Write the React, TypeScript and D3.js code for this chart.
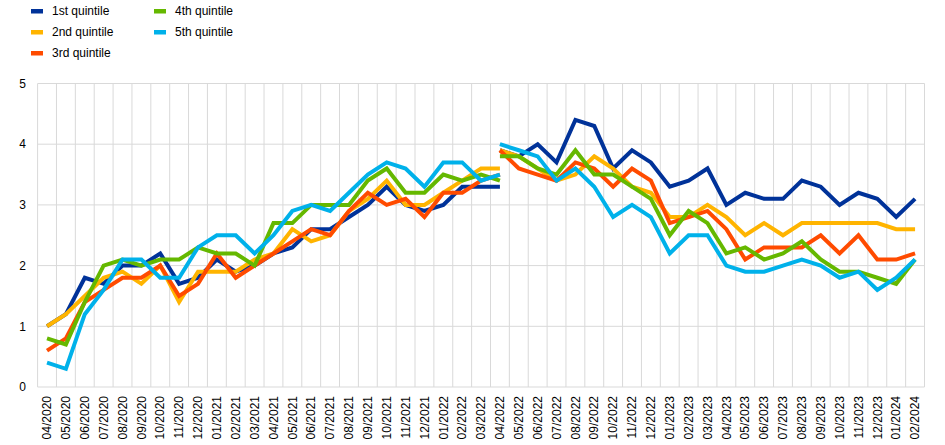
import React from "react";
import * as d3 from "d3";

const months = [
  "04/2020","05/2020","06/2020","07/2020","08/2020","09/2020","10/2020","11/2020","12/2020",
  "01/2021","02/2021","03/2021","04/2021","05/2021","06/2021","07/2021","08/2021","09/2021","10/2021","11/2021","12/2021",
  "01/2022","02/2022","03/2022","04/2022","05/2022","06/2022","07/2022","08/2022","09/2022","10/2022","11/2022","12/2022",
  "01/2023","02/2023","03/2023","04/2023","05/2023","06/2023","07/2023","08/2023","09/2023","10/2023","11/2023","12/2023",
  "01/2024","02/2024",
];

// first segment: 04/2020 .. 04/2022 ; second segment: 04/2022 .. 02/2024
const breakIndex = 24;

const q1Old = [1.0,1.2,1.8,1.7,2.0,2.0,2.2,1.7,1.8,2.1,1.9,2.0,2.2,2.3,2.6,2.6,2.8,3.0,3.3,3.0,2.9,3.0,3.3,3.3,3.3];
const q1New = [3.9,3.8,4.0,3.7,4.4,4.3,3.6,3.9,3.7,3.3,3.4,3.6,3.0,3.2,3.1,3.1,3.4,3.3,3.0,3.2,3.1,2.8,3.1];

const q2Old = [1.0,1.2,1.5,1.8,1.9,1.7,2.0,1.4,1.9,1.9,1.9,2.1,2.2,2.6,2.4,2.5,2.9,3.1,3.4,3.0,3.0,3.2,3.4,3.6,3.6];
const q2New = [3.9,3.8,3.6,3.4,3.5,3.8,3.6,3.3,3.2,2.8,2.8,3.0,2.8,2.5,2.7,2.5,2.7,2.7,2.7,2.7,2.7,2.6,2.6];

const q3Old = [0.6,0.8,1.4,1.6,1.8,1.8,2.0,1.5,1.7,2.2,1.8,2.0,2.2,2.4,2.6,2.5,2.9,3.2,3.0,3.1,2.8,3.2,3.2,3.4,3.5];
const q3New = [3.9,3.6,3.5,3.4,3.7,3.6,3.3,3.6,3.4,2.7,2.8,2.9,2.6,2.1,2.3,2.3,2.3,2.5,2.2,2.5,2.1,2.1,2.2];

const q4Old = [0.8,0.7,1.4,2.0,2.1,2.0,2.1,2.1,2.3,2.2,2.2,2.0,2.7,2.7,3.0,3.0,3.0,3.4,3.6,3.2,3.2,3.5,3.4,3.5,3.4];
const q4New = [3.8,3.8,3.6,3.5,3.9,3.5,3.5,3.3,3.1,2.5,2.9,2.7,2.2,2.3,2.1,2.2,2.4,2.1,1.9,1.9,1.8,1.7,2.1];

const q5Old = [0.4,0.3,1.2,1.6,2.1,2.1,1.8,1.8,2.3,2.5,2.5,2.2,2.5,2.9,3.0,2.9,3.2,3.5,3.7,3.6,3.3,3.7,3.7,3.4,3.5];
const q5New = [4.0,3.9,3.8,3.4,3.6,3.3,2.8,3.0,2.8,2.2,2.5,2.5,2.0,1.9,1.9,2.0,2.1,2.0,1.8,1.9,1.6,1.8,2.1];

const seriesNames = ["1st quintile","2nd quintile","3rd quintile","4th quintile","5th quintile"];
const seriesColors = ["#003299","#ffb400","#ff4b00","#65b800","#00b1ea"];
const yTicks = [0,1,2,3,4,5];

const series = [
  { name: seriesNames[0], color: seriesColors[0], old: q1Old, neu: q1New },
  { name: seriesNames[1], color: seriesColors[1], old: q2Old, neu: q2New },
  { name: seriesNames[2], color: seriesColors[2], old: q3Old, neu: q3New },
  { name: seriesNames[3], color: seriesColors[3], old: q4Old, neu: q4New },
  { name: seriesNames[4], color: seriesColors[4], old: q5Old, neu: q5New },
];

const W = 945, H = 445;
const left = 37.6, right = 924.5, top = 83.5, bottom = 387;
const font = "Arial, 'Liberation Sans', sans-serif";

export default function App() {
  const x = d3.scaleBand<string>().domain(months).range([left, right]).padding(0);
  const y = d3.scaleLinear().domain([0, 5]).range([bottom, top]);
  const cx = (i: number) => (x(months[i]) as number) + x.bandwidth() / 2;
  const line = d3.line<[number, number]>().x(d => d[0]).y(d => d[1]);

  const legendPos = [
    { x: 31, y: 9 }, { x: 31, y: 30 }, { x: 31, y: 51 }, { x: 154, y: 9 }, { x: 154, y: 30 },
  ];

  return (
    <svg width={W} height={H} style={{ position: "absolute", left: 0, top: 0, background: "#fff" }} fontFamily={font}>
      {yTicks.map(t => (
        <line key={"h" + t} x1={left} x2={right} y1={y(t)} y2={y(t)} stroke="#d9d9d9" strokeWidth={1} />
      ))}
      {months.map((m, i) => (
        <line key={"v" + i} x1={x(m)} x2={x(m)} y1={top} y2={bottom} stroke="#d9d9d9" strokeWidth={1} />
      ))}
      <line x1={right} x2={right} y1={top} y2={bottom} stroke="#d9d9d9" strokeWidth={1} />
      {yTicks.map(t => (
        <text key={"yt" + t} x={26} y={y(t)} dy="0.35em" textAnchor="end" fontSize={12} fill="#000">{t}</text>
      ))}
      {months.map((m, i) => (
        <text key={"xt" + i} transform={`translate(${cx(i)},${396}) rotate(-90)`} textAnchor="end" dy="0.35em" fontSize={12} fill="#000">{m}</text>
      ))}
      {series.map(s => {
        const a: [number, number][] = s.old.map((v, i) => [cx(i), y(v)]);
        const b: [number, number][] = s.neu.map((v, i) => [cx(i + breakIndex), y(v)]);
        return (
          <g key={s.name}>
            <path d={line(a) || ""} fill="none" stroke={s.color} strokeWidth={4} strokeLinejoin="miter" />
            <path d={line(b) || ""} fill="none" stroke={s.color} strokeWidth={4} strokeLinejoin="miter" />
          </g>
        );
      })}
      {series.map((s, i) => (
        <g key={"lg" + i}>
          <rect x={legendPos[i].x} y={legendPos[i].y} width={12} height={4.5} fill={s.color} />
          <text x={legendPos[i].x + 21} y={legendPos[i].y + 2.25} dy="0.35em" fontSize={12} fill="#000">{s.name}</text>
        </g>
      ))}
    </svg>
  );
}
